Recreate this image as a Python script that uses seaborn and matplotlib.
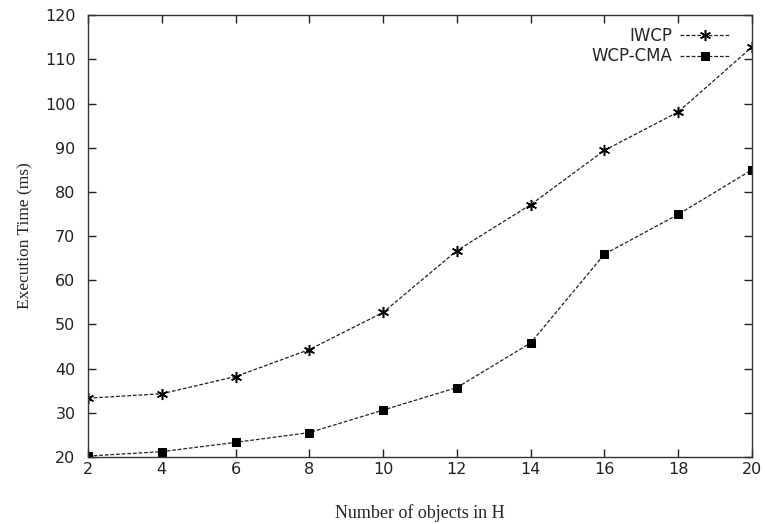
import matplotlib
matplotlib.use('Agg')
import matplotlib.pyplot as plt
import seaborn as sns

n_objects = [2, 4, 6, 8, 10, 12, 14, 16, 18, 20]
iwcp = [33.3, 34.3, 38.2, 44.3, 52.7, 66.7, 77.1, 89.4, 98.1, 112.8]
wcp_cma = [20.2, 21.2, 23.3, 25.5, 30.6, 35.7, 45.8, 65.9, 74.9, 85.0]

sns.set_style('ticks')
plt.rcParams['font.family'] = ['DejaVu Sans']

fig = plt.figure(figsize=(7.65, 5.24), dpi=100)
ax = fig.add_axes([0.115, 0.128, 0.868, 0.843])

sns.lineplot(x=n_objects, y=iwcp, label='IWCP', ax=ax,
             color='#222222', linewidth=0.9, linestyle=(0, (3, 1.5)),
             marker=(6, 2, 0), markersize=8, markeredgecolor='black',
             markeredgewidth=1.1)
sns.lineplot(x=n_objects, y=wcp_cma, label='WCP-CMA', ax=ax,
             color='#222222', linewidth=0.9, linestyle=(0, (3, 1.5)),
             marker='s', markersize=6, markeredgecolor='black',
             markerfacecolor='black')

ax.set_xlim(2, 20)
ax.set_ylim(20, 120)
ax.set_xticks(n_objects)
ax.set_yticks(range(20, 121, 10))
ax.tick_params(direction='in', length=6, width=1, top=True, right=True,
               labelsize=11.5, colors='#222222')
ax.tick_params(axis='x', pad=4)
ax.tick_params(axis='y', pad=9)
for s in ax.spines.values():
    s.set_linewidth(1)
    s.set_color('#333333')

ax.set_xlabel('Number of objects in H', family='Liberation Serif', fontsize=13, labelpad=19)
ax.set_ylabel('Execution Time (ms)', family='Liberation Serif', fontsize=12.5, labelpad=8)

ax.legend(loc='upper right', bbox_to_anchor=(0.985, 1.0), frameon=False,
          markerfirst=False, fontsize=12, handlelength=3.0,
          handletextpad=0.5, borderaxespad=0.3, labelspacing=0.15)

plt.savefig('out.png', dpi=100)
